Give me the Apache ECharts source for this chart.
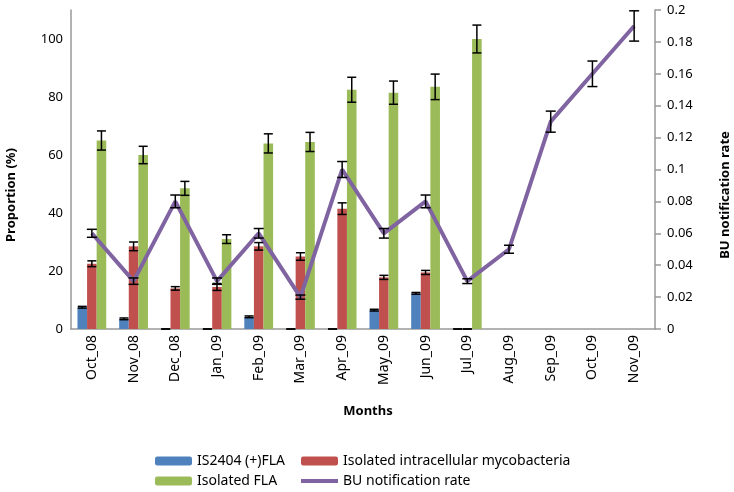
<!DOCTYPE html>
<html>
<head>
<meta charset="utf-8">
<script src="https://cdn.jsdelivr.net/npm/echarts@6/dist/echarts.min.js"></script>
<style>
html,body{margin:0;padding:0;background:#fff;}
#chart{width:734px;height:492px;}
</style>
</head>
<body>
<div id="chart"></div>
<script>
const months = ['Oct_08','Nov_08','Dec_08','Jan_09','Feb_09','Mar_09','Apr_09','May_09','Jun_09','Jul_09','Aug_09','Sep_09','Oct_09','Nov_09'];
const is2404 = [7.5, 3.5, 0, 0, 4.2, 0, 0, 6.5, 12.3, 0, null, null, null, null];
const is2404Err = [0.3, 0.3, 0, 0, 0.3, 0, 0, 0.3, 0.3, 0, null, null, null, null];
const intracell = [22.5, 28.5, 14, 14.5, 28.5, 25, 41.5, 17.8, 19.5, 0, null, null, null, null];
const intracellErr = [1, 1.5, 0.6, 1.2, 1.3, 1.3, 2, 0.7, 0.7, 0, null, null, null, null];
const fla = [65, 60, 48.5, 31, 64, 64.5, 82.5, 81.5, 83.5, 100, null, null, null, null];
const flaErr = [3.3, 3, 2.4, 1.5, 3.3, 3.3, 4.3, 4, 4.4, 4.8, null, null, null, null];
const buRate = [0.06, 0.03, 0.08, 0.03, 0.06, 0.02, 0.1, 0.06, 0.08, 0.03, 0.05, 0.13, 0.16, 0.19];
const buErr = [0.0025, 0.002, 0.004, 0.002, 0.003, 0.0013, 0.005, 0.003, 0.004, 0.0015, 0.0025, 0.0066, 0.008, 0.0095];
const leftTicks = {min: 0, max: 110, interval: 20};
const rightTicks = {min: 0, max: 0.2, interval: 0.02};

const FONT = 'Noto Sans';
const BAR_FRAC = 0.23;

function errData(vals, errs) {
  const out = [];
  vals.forEach((v, i) => { if (v !== null && v !== undefined) out.push([i, v, errs[i]]); });
  return out;
}

function errRender(slot) {
  return function (params, api) {
    const i = api.value(0), v = api.value(1), e = api.value(2);
    const band = api.size([1, 0])[0];
    const off = slot === null ? 0 : (slot - 1) * band * BAR_FRAC;
    const top = api.coord([i, v + e]);
    const bot = api.coord([i, v - e]);
    const x = top[0] + off;
    const cw = slot === null ? 5 : 4.5;
    const st = {stroke: '#000', lineWidth: 1.5};
    return {
      type: 'group',
      children: [
        {type: 'line', shape: {x1: x, y1: top[1], x2: x, y2: bot[1]}, style: st},
        {type: 'line', shape: {x1: x - cw, y1: top[1], x2: x + cw, y2: top[1]}, style: st},
        {type: 'line', shape: {x1: x - cw, y1: bot[1], x2: x + cw, y2: bot[1]}, style: st}
      ]
    };
  };
}

const legendCommon = {
  top: 454, orient: 'vertical', itemGap: 6, itemWidth: 37, itemHeight: 9, padding: 0,
  height: 40, itemStyle: {borderWidth: 0},
  textStyle: {fontFamily: FONT, fontSize: 14, color: '#000', lineHeight: 14}
};

const chart = echarts.init(document.getElementById('chart'));
const axisGray = '#999999';
chart.setOption({
  animation: false,
  textStyle: {fontFamily: FONT},
  grid: {left: 71, right: 79, top: 10, bottom: 163, containLabel: false},
  xAxis: {
    type: 'category',
    data: months,
    axisLine: {lineStyle: {color: axisGray, width: 1.5}},
    axisTick: {show: false},
    axisLabel: {rotate: 90, margin: 6, color: '#000', fontSize: 14, fontFamily: FONT, interval: 0}
  },
  yAxis: [
    {
      type: 'value', min: leftTicks.min, max: leftTicks.max, interval: leftTicks.interval,
      splitLine: {show: false},
      axisLine: {show: true, lineStyle: {color: axisGray, width: 1.5}},
      axisTick: {show: false},
      axisLabel: {color: '#000', fontSize: 13, fontFamily: FONT, margin: 8, showMaxLabel: false,
        formatter: v => (v > 100 ? '' : String(v))}
    },
    {
      type: 'value', min: rightTicks.min, max: rightTicks.max, interval: rightTicks.interval,
      position: 'right',
      splitLine: {show: false},
      axisLine: {show: true, lineStyle: {color: axisGray, width: 1.5}},
      axisTick: {show: true, length: 6, lineStyle: {color: axisGray, width: 1.5}},
      axisLabel: {color: '#000', fontSize: 13, fontFamily: FONT, margin: 12,
        formatter: v => String(Math.round(v * 100) / 100)}
    }
  ],
  legend: [
    Object.assign({}, legendCommon, {left: 155, data: ['IS2404 (+)FLA', 'Isolated FLA']}),
    Object.assign({}, legendCommon, {left: 299, data: [
      'Isolated intracellular mycobacteria',
      {name: 'BU notification rate', itemStyle: {opacity: 0}, lineStyle: {width: 4, color: '#8064A2'}}
    ]})
  ],
  graphic: [
    {type: 'text', x: 11, y: 195, rotation: Math.PI / 2,
      style: {text: 'Proportion (%)', font: 'bold 13px "Noto Sans"', fill: '#000', align: 'center', verticalAlign: 'middle'}},
    {type: 'text', x: 725, y: 195, rotation: Math.PI / 2,
      style: {text: 'BU notification rate', font: 'bold 13px "Noto Sans"', fill: '#000', align: 'center', verticalAlign: 'middle'}},
    {type: 'text', x: 368, y: 411,
      style: {text: 'Months', font: 'bold 13px "Noto Sans"', fill: '#000', align: 'center', verticalAlign: 'middle'}}
  ],
  series: [
    {name: 'IS2404 (+)FLA', type: 'bar', data: is2404, barWidth: (BAR_FRAC * 100) + '%', barGap: '0%',
      itemStyle: {color: '#4F81BD'}, z: 2},
    {name: 'Isolated intracellular mycobacteria', type: 'bar', data: intracell, barWidth: (BAR_FRAC * 100) + '%', barGap: '0%',
      itemStyle: {color: '#C0504D'}, z: 2},
    {name: 'Isolated FLA', type: 'bar', data: fla, barWidth: (BAR_FRAC * 100) + '%', barGap: '0%',
      itemStyle: {color: '#9BBB59'}, z: 2},
    {name: 'BU notification rate', type: 'line', yAxisIndex: 1, data: buRate, symbol: 'none', showSymbol: false,
      lineStyle: {color: '#8064A2', width: 4}, itemStyle: {color: '#8064A2'}, z: 3},
    {type: 'custom', name: 'errA', data: errData(is2404, is2404Err), renderItem: errRender(0), z: 4, silent: true},
    {type: 'custom', name: 'errB', data: errData(intracell, intracellErr), renderItem: errRender(1), z: 4, silent: true},
    {type: 'custom', name: 'errC', data: errData(fla, flaErr), renderItem: errRender(2), z: 4, silent: true},
    {type: 'custom', name: 'errD', yAxisIndex: 1, data: errData(buRate, buErr), renderItem: errRender(null), z: 5, silent: true}
  ]
});
</script>
</body>
</html>
